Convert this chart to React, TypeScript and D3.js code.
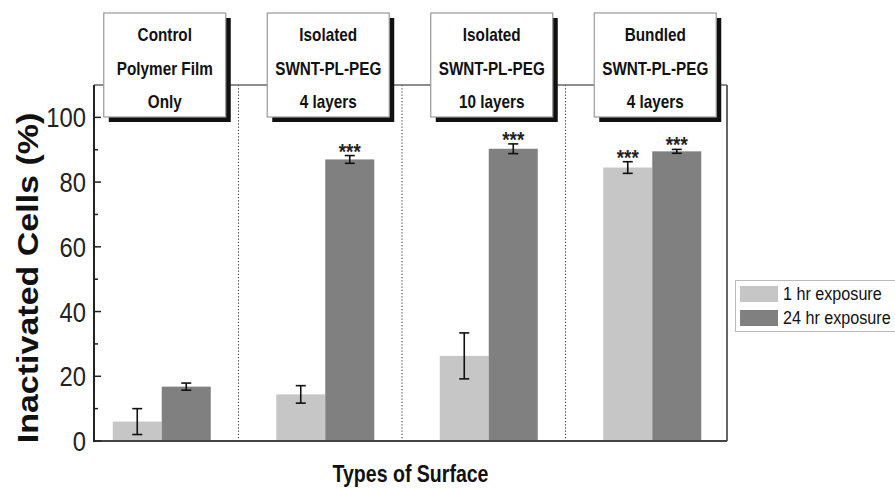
import React from "react";
import * as d3 from "d3";

const categories = ["Control", "Isolated 4", "Isolated 10", "Bundled 4"];
const boxLabels = [
  ["Control", "Polymer Film", "Only"],
  ["Isolated", "SWNT-PL-PEG", "4 layers"],
  ["Isolated", "SWNT-PL-PEG", "10 layers"],
  ["Bundled", "SWNT-PL-PEG", "4 layers"],
];
const seriesNames = ["1 hr exposure", "24 hr exposure"];
const values1hr = [6.0, 14.4, 26.3, 84.5];
const errors1hr = [4.0, 2.7, 7.1, 1.8];
const values24hr = [16.8, 87.0, 90.3, 89.5];
const errors24hr = [1.1, 1.2, 1.5, 0.6];
const sig1hr = ["", "", "", "***"];
const sig24hr = ["", "***", "***", "***"];
const yTicks = [0, 20, 40, 60, 80, 100];
const yMinorTicks = [10, 30, 50, 70, 90];
const yTitle = "Inactivated Cells (%)";
const xTitle = "Types of Surface";

const W = 895;
const H = 488;
const left = 94;
const right = 727;
const top = 85;
const bottom = 441;
const colors = ["#c6c6c6", "#808080"];
const FONT = "'Liberation Sans', Arial, sans-serif";
const SQ = 0.85;

export default function App() {
  const y = d3.scaleLinear().domain([0, 110]).range([bottom, top]);
  const x = d3.scaleBand<string>().domain(categories).range([80, 734]);
  const bw = x.bandwidth();
  const xs = d3
    .scaleBand<string>()
    .domain(seriesNames)
    .range([bw / 2 - 49, bw / 2 + 49]);

  const seriesData = [
    { name: seriesNames[0], vals: values1hr, errs: errors1hr, sig: sig1hr },
    { name: seriesNames[1], vals: values24hr, errs: errors24hr, sig: sig24hr },
  ];

  return (
    <svg
      width={W}
      height={H}
      style={{ position: "absolute", left: 0, top: 0, background: "#fff" }}
      fontFamily={FONT}
    >
      {/* separators */}
      {categories.slice(1).map((c) => (
        <line
          key={c}
          x1={x(c)! - 5}
          x2={x(c)! - 5}
          y1={top}
          y2={bottom}
          stroke="#333"
          strokeWidth={1}
          strokeDasharray="1.2,2"
        />
      ))}

      {/* bars */}
      {seriesData.map((s, si) =>
        categories.map((c, i) => {
          const bx = x(c)! + xs(s.name)!;
          const w = xs.bandwidth();
          const cx = bx + w / 2;
          const v = s.vals[i];
          const e = s.errs[i];
          const yt = y(v + e);
          const yb = y(Math.max(0, v - e));
          return (
            <g key={c + s.name}>
              <rect x={bx} y={y(v)} width={w} height={y(0) - y(v)} fill={colors[si]} />
              <line x1={cx} x2={cx} y1={yt} y2={yb} stroke="#111" strokeWidth={1.6} />
              <line x1={cx - 5} x2={cx + 5} y1={yt} y2={yt} stroke="#111" strokeWidth={1.6} />
              <line x1={cx - 5} x2={cx + 5} y1={yb} y2={yb} stroke="#111" strokeWidth={1.6} />
              {s.sig[i] && (
                <text
                  transform={`translate(${cx},${yt + 3}) scale(${SQ},1)`}
                  textAnchor="middle"
                  fontSize={22}
                  fontWeight="bold"
                  fill="#222"
                >
                  {s.sig[i]}
                </text>
              )}
            </g>
          );
        })
      )}

      {/* frame */}
      <line x1={left} x2={right} y1={top} y2={top} stroke="#666" strokeWidth={1.5} />
      <line x1={right} x2={right} y1={top} y2={bottom} stroke="#555" strokeWidth={1.8} />
      <line x1={left} x2={right} y1={bottom} y2={bottom} stroke="#444" strokeWidth={2} />
      <line x1={left} x2={left} y1={top} y2={bottom + 1} stroke="#222" strokeWidth={2} />

      {/* y ticks */}
      {yTicks.map((t) => (
        <g key={t}>
          <line x1={left} x2={left + 7} y1={y(t)} y2={y(t)} stroke="#222" strokeWidth={1.5} />
          <text
            transform={`translate(${left - 8},${y(t) + 10}) scale(${SQ},1)`}
            textAnchor="end"
            fontSize={28}
            fill="#222"
          >
            {t}
          </text>
        </g>
      ))}
      {yMinorTicks.map((t) => (
        <line key={t} x1={left} x2={left + 4} y1={y(t)} y2={y(t)} stroke="#222" strokeWidth={1.5} />
      ))}

      {/* label boxes */}
      {categories.map((c, i) => {
        const cx = x(c)! + bw / 2 + 3;
        const bwBox = 122;
        const bx = cx - bwBox / 2;
        const by = 13;
        const bh = 104;
        return (
          <g key={"box" + c}>
            <rect x={bx + 5} y={by + 5} width={bwBox} height={bh} fill="#111" />
            <rect x={bx} y={by} width={bwBox} height={bh} fill="#fff" stroke="#999" strokeWidth={1.2} />
            {boxLabels[i].map((l, li) => (
              <text
                key={li}
                transform={`translate(${cx},${by + 28 + li * 33.5}) scale(${SQ},1)`}
                textAnchor="middle"
                fontSize={18}
                fontWeight="bold"
                fill="#111"
              >
                {l}
              </text>
            ))}
          </g>
        );
      })}

      {/* axis titles */}
      <text
        transform={`translate(38,278) rotate(-90) scale(1,${SQ})`}
        textAnchor="middle"
        fontSize={34}
        fontWeight="bold"
        fill="#111"
      >
        {yTitle}
      </text>
      <text
        transform={`translate(${(left + right) / 2},482) scale(${SQ},1)`}
        textAnchor="middle"
        fontSize={23}
        fontWeight="bold"
        fill="#111"
      >
        {xTitle}
      </text>

      {/* legend */}
      <g>
        <rect x={735.5} y={280.5} width={170} height={51} fill="#fff" stroke="#bbb" strokeWidth={1} />
        {seriesNames.map((n, i) => (
          <g key={n}>
            <rect x={740} y={286 + i * 24} width={38} height={16} fill={colors[i]} />
            <text
              transform={`translate(783,${300 + i * 24}) scale(${SQ},1)`}
              fontSize={19}
              fill="#111"
            >
              {n}
            </text>
          </g>
        ))}
      </g>
    </svg>
  );
}
